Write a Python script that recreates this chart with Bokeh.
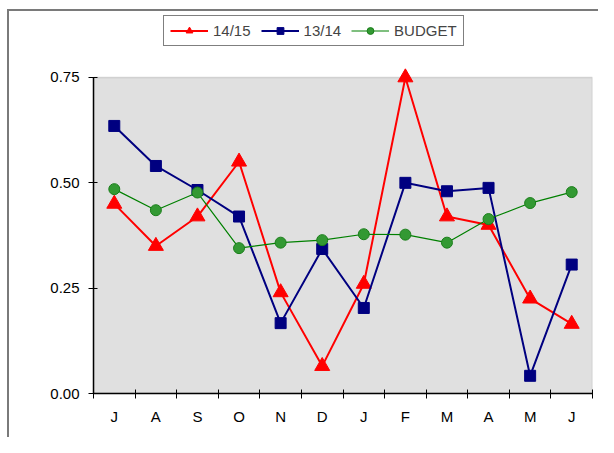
from bokeh.plotting import figure
from bokeh.models import (Range1d, FixedTicker, Legend, LegendItem, BoxAnnotation,
                          NumeralTickFormatter, InlineStyleSheet)
from bokeh.embed import file_html
from bokeh.resources import INLINE

months = ["J", "A", "S", "O", "N", "D", "J", "F", "M", "A", "M", "J"]
s1415 = [0.45, 0.35, 0.42, 0.55, 0.24, 0.065, 0.26, 0.75, 0.42, 0.40, 0.225, 0.165]
s1314 = [0.635, 0.54, 0.483, 0.42, 0.167, 0.343, 0.203, 0.50, 0.48, 0.488, 0.042, 0.306]
budget = [0.485, 0.435, 0.477, 0.345, 0.358, 0.364, 0.378, 0.377, 0.358, 0.414, 0.452, 0.478]
y_ticks = [0.0, 0.25, 0.5, 0.75]

FONT = "Liberation Sans"
n = len(months)
xs = [i + 0.5 for i in range(n)]

# frame spans from the top of the chart box down to the x axis; the grey plot
# area is drawn only up to the last y tick, leaving room for the legend above it
p = figure(width=598, height=437, output_backend="svg", toolbar_location=None,
           x_range=Range1d(0, n), y_range=Range1d(0, 0.909),
           min_border_left=93, min_border_right=6, min_border_top=10, min_border_bottom=44)
p.stylesheets = [InlineStyleSheet(css=(
    ":host { position: relative; }"
    ":host::after { content: ''; position: absolute; left: 7px; top: 9px; "
    "right: 0px; bottom: 0px; border-left: 2px solid #7a7a7a; "
    "border-top: 2px solid #7a7a7a; pointer-events: none; }"))]
p.background_fill_color = "white"
p.border_fill_color = "white"
p.outline_line_color = None
p.xgrid.visible = False
p.ygrid.visible = False

# plot area background
p.add_layout(BoxAnnotation(left=0, right=n, bottom=0, top=y_ticks[-1],
                           fill_color="#e0e0e0", fill_alpha=1.0,
                           line_color="#8c8c8c", line_width=1.5, level="underlay"))

# axes
xa = p.xaxis[0]
xa.ticker = FixedTicker(ticks=xs, minor_ticks=list(range(n + 1)))
xa.major_label_overrides = {x: m for x, m in zip(xs, months)}
xa.major_tick_line_color = None
xa.minor_tick_line_color = "black"
xa.minor_tick_in = 4
xa.minor_tick_out = 5
xa.axis_line_color = "black"
xa.axis_line_width = 1.5
xa.major_label_text_font = FONT
xa.major_label_text_font_size = "15px"
xa.major_label_text_color = "black"
xa.major_label_standoff = 8

ya = p.yaxis[0]
ya.ticker = FixedTicker(ticks=y_ticks)
ya.formatter = NumeralTickFormatter(format="0.00")
ya.bounds = (0, y_ticks[-1])
ya.minor_tick_line_color = None
ya.major_tick_in = 4
ya.major_tick_out = 5
ya.axis_line_color = "black"
ya.axis_line_width = 1.5
ya.major_label_text_font = FONT
ya.major_label_text_font_size = "15px"
ya.major_label_text_color = "black"
ya.major_label_standoff = 9

# series
l1 = p.line(xs, s1415, line_color="#ff0000", line_width=2)
m1 = p.scatter(xs, s1415, marker="triangle", size=15, fill_color="#ff0000", line_color="#ff0000")
l2 = p.line(xs, s1314, line_color="#000080", line_width=2)
m2 = p.scatter(xs, s1314, marker="square", size=11, fill_color="#000080", line_color="#000080")
l3 = p.line(xs, budget, line_color="#008000", line_width=1.2)
m3 = p.scatter(xs, budget, marker="circle", size=11, fill_color="#339933", line_color="#1a7f1a")

legend = Legend(items=[LegendItem(label="14/15", renderers=[l1, m1]),
                       LegendItem(label="13/14", renderers=[l2, m2]),
                       LegendItem(label="BUDGET", renderers=[l3, m3])],
                orientation="horizontal", location=(70, 347),
                border_line_color="black", border_line_width=1,
                background_fill_color="white", background_fill_alpha=1.0,
                label_text_font=FONT, label_text_font_size="15px",
                glyph_width=38, glyph_height=17, label_height=17,
                label_standoff=5, spacing=10, padding=6, margin=0)
p.add_layout(legend, "center")

open("out.html", "w").write(file_html(p, INLINE))
